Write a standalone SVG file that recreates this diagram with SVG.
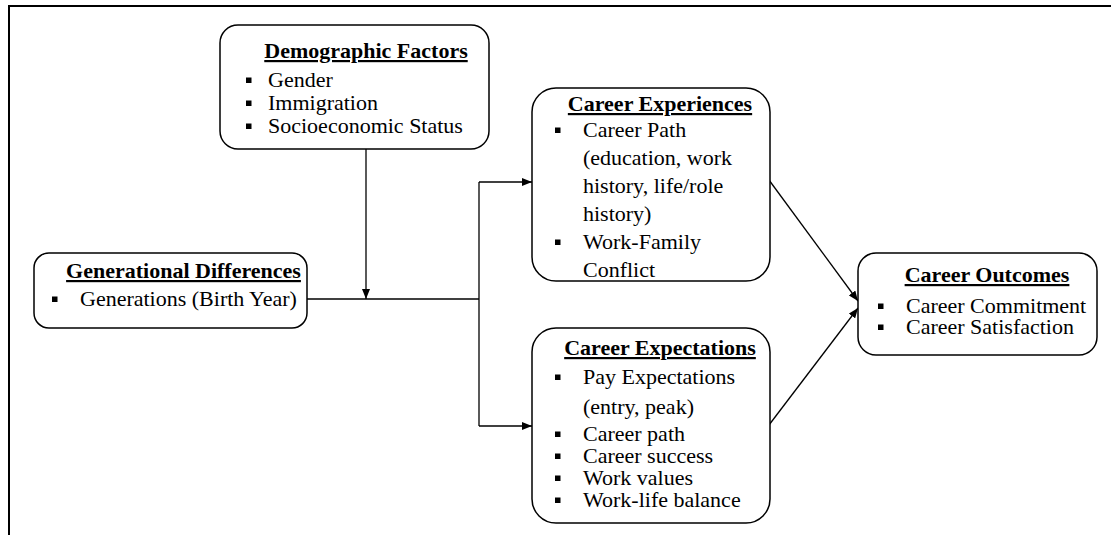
<svg xmlns="http://www.w3.org/2000/svg" width="1111" height="535" viewBox="0 0 1111 535">
<style>
  .box { fill: #fff; stroke: #000; stroke-width: 1.5; }
  .t { font-family: "Liberation Serif", "Times New Roman", serif; font-size: 22px; fill: #000; }
  .h { font-weight: bold; text-decoration: underline; text-anchor: middle; }
  .b { fill: #000; }
  .c { fill: none; stroke: #000; stroke-width: 1.3; }
  .frame { fill: none; stroke: #000; stroke-width: 2; }
</style>
<defs>
  <marker id="arr" markerUnits="userSpaceOnUse" markerWidth="10" markerHeight="8" refX="10" refY="4" orient="auto">
    <path d="M0,0 L10,4 L0,8 z" fill="#000"/>
  </marker>
</defs>
<rect width="1111" height="535" fill="#fff"/>
<path class="frame" d="M9,535 V6 H1111"/>

<g id="connectors">
  <path class="c" d="M366,149 V299" marker-end="url(#arr)"/>
  <path class="c" d="M307,299 H479"/>
  <path class="c" d="M479,182 V426"/>
  <path class="c" d="M479,182 H532" marker-end="url(#arr)"/>
  <path class="c" d="M479,426 H532" marker-end="url(#arr)"/>
  <path class="c" d="M769,180 L858,301" marker-end="url(#arr)"/>
  <path class="c" d="M769,425 L858,308" marker-end="url(#arr)"/>
</g>

<g id="demographic">
  <rect class="box" x="220" y="25" width="269" height="124" rx="18"/>
  <text class="t h" x="366" y="58">Demographic Factors</text>
  <rect class="b" x="246" y="77.5" width="5.5" height="5.5"/>
  <rect class="b" x="246" y="100.5" width="5.5" height="5.5"/>
  <rect class="b" x="246" y="123.5" width="5.5" height="5.5"/>
  <text class="t" x="268" y="87">Gender</text>
  <text class="t" x="268" y="110">Immigration</text>
  <text class="t" x="268" y="133">Socioeconomic Status</text>
</g>

<g id="generational">
  <rect class="box" x="34" y="253" width="273" height="75" rx="15"/>
  <text class="t h" x="183.5" y="278">Generational Differences</text>
  <rect class="b" x="52" y="296.5" width="5.5" height="5.5"/>
  <text class="t" x="80" y="305.5">Generations (Birth Year)</text>
</g>

<g id="experiences">
  <rect class="box" x="532" y="88" width="238" height="193" rx="24"/>
  <text class="t h" x="660" y="111">Career Experiences</text>
  <rect class="b" x="555" y="127.5" width="5.5" height="5.5"/>
  <rect class="b" x="555" y="239.5" width="5.5" height="5.5"/>
  <text class="t" x="583" y="137">Career Path</text>
  <text class="t" x="583" y="165">(education, work</text>
  <text class="t" x="583" y="193">history, life/role</text>
  <text class="t" x="583" y="221">history)</text>
  <text class="t" x="583" y="249">Work-Family</text>
  <text class="t" x="583" y="277">Conflict</text>
</g>

<g id="expectations">
  <rect class="box" x="532" y="328" width="238" height="195" rx="24"/>
  <text class="t h" x="660" y="355">Career Expectations</text>
  <rect class="b" x="555" y="374.5" width="5.5" height="5.5"/>
  <rect class="b" x="555" y="431.5" width="5.5" height="5.5"/>
  <rect class="b" x="555" y="453.5" width="5.5" height="5.5"/>
  <rect class="b" x="555" y="475.5" width="5.5" height="5.5"/>
  <rect class="b" x="555" y="497.5" width="5.5" height="5.5"/>
  <text class="t" x="583" y="384">Pay Expectations</text>
  <text class="t" x="583" y="414">(entry, peak)</text>
  <text class="t" x="583" y="441">Career path</text>
  <text class="t" x="583" y="463">Career success</text>
  <text class="t" x="583" y="485">Work values</text>
  <text class="t" x="583" y="507">Work-life balance</text>
</g>

<g id="outcomes">
  <rect class="box" x="858" y="253" width="239" height="102" rx="18"/>
  <text class="t h" x="987" y="282">Career Outcomes</text>
  <rect class="b" x="878" y="303.5" width="5.5" height="5.5"/>
  <rect class="b" x="878" y="324.5" width="5.5" height="5.5"/>
  <text class="t" x="906" y="313">Career Commitment</text>
  <text class="t" x="906" y="334">Career Satisfaction</text>
</g>
</svg>
